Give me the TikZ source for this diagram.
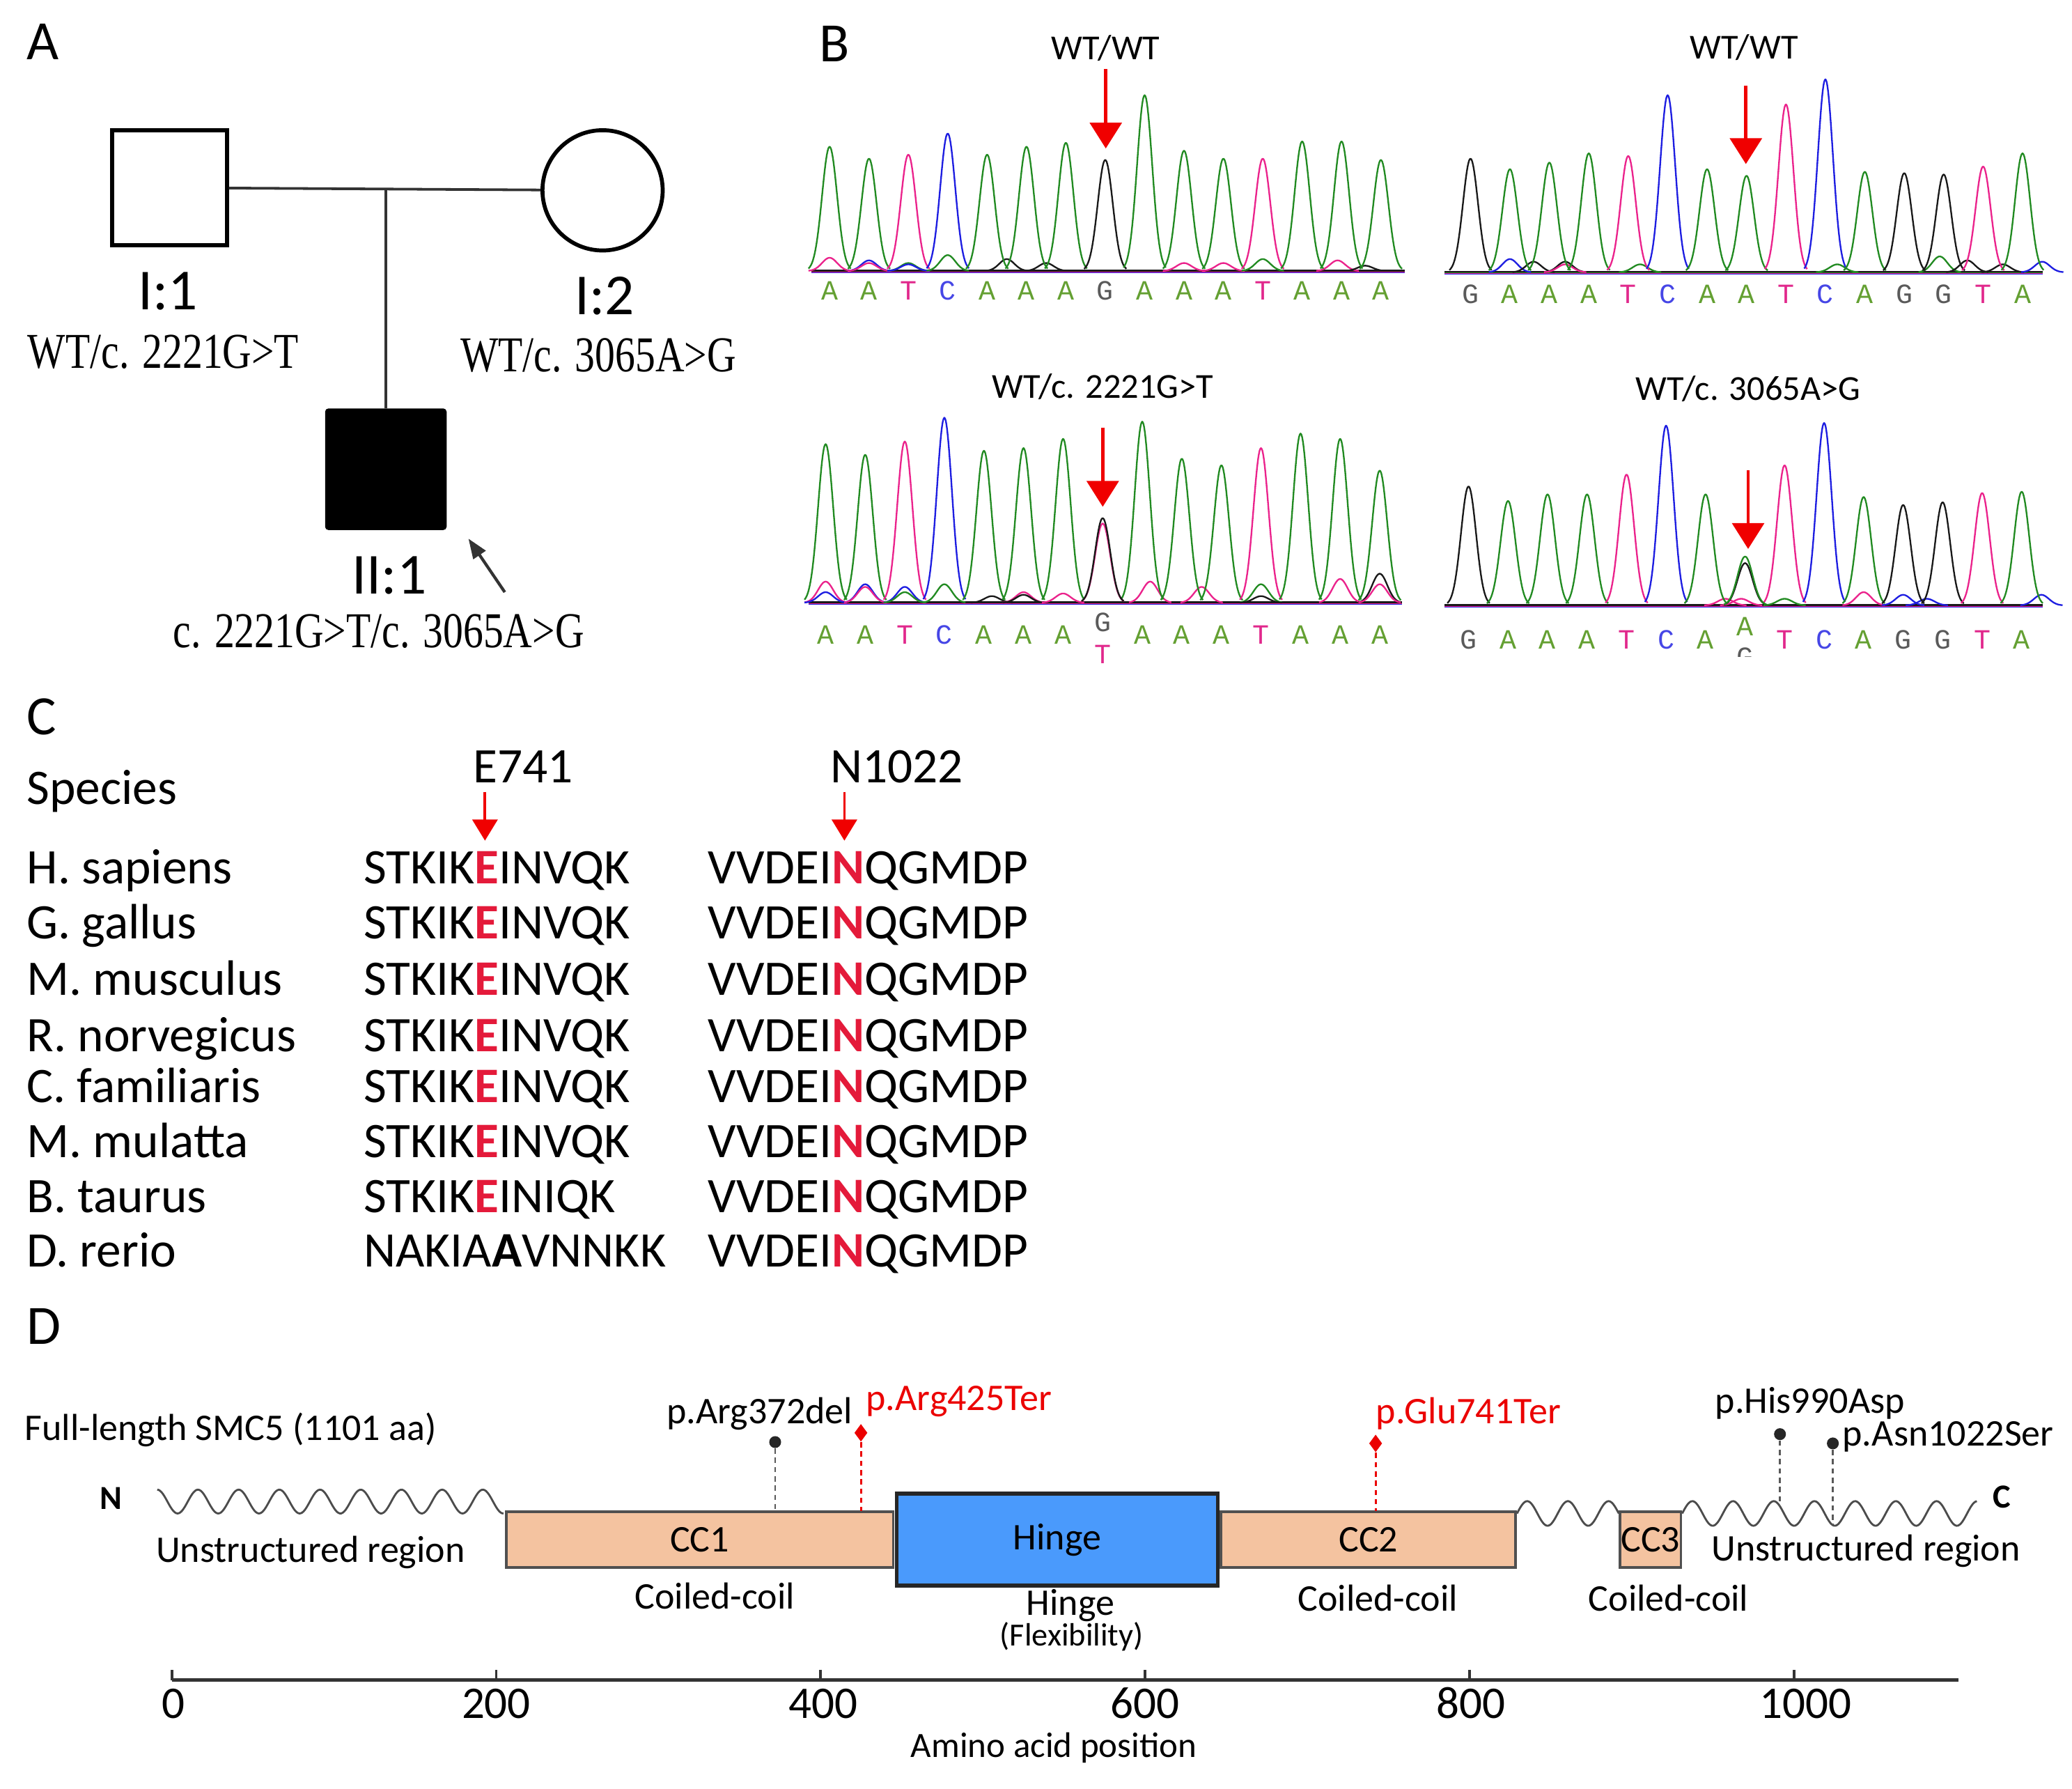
\documentclass[tikz,border=0pt]{standalone}
\usepackage{fontspec}
\setmainfont{Carlito}
\newfontfamily\genofont[FakeStretch=0.8]{Liberation Serif}
\newfontfamily\basefont{Liberation Mono}
\usepackage{tikz}
\usetikzlibrary{arrows.meta,shapes,positioning}

\definecolor{ccfill}{RGB}{244,195,160}
\definecolor{hingefill}{RGB}{74,154,252}
\definecolor{boxline}{RGB}{80,80,80}
\definecolor{markred}{RGB}{235,0,0}
\definecolor{arrowred}{RGB}{240,0,0}
\definecolor{seqred}{RGB}{228,26,58}
\definecolor{pedgray}{RGB}{51,51,51}
\definecolor{trA}{RGB}{34,139,34}
\definecolor{trC}{RGB}{30,30,225}
\definecolor{trG}{RGB}{25,25,25}
\definecolor{trT}{RGB}{235,35,140}
\definecolor{bA}{RGB}{100,160,50}
\definecolor{bC}{RGB}{70,70,230}
\definecolor{bG}{RGB}{90,90,90}
\definecolor{bT}{RGB}{225,40,140}

\tikzstyle{panel} = [font=\fontsize{23.9}{28}\selectfont, inner sep=0, anchor=base west]
\tikzstyle{pedid} = [font=\fontsize{25}{30}\selectfont, inner sep=0, anchor=base]
\tikzstyle{geno} = [font=\genofont\fontsize{21.6}{26}\selectfont, inner sep=0, anchor=base]
\tikzstyle{male} = [rectangle, draw=black, line width=0.06cm, fill=white,
    minimum size=1.74cm]
\tikzstyle{female} = [circle, draw=black, line width=0.06cm, fill=white,
    minimum size=1.82cm]
\tikzstyle{affected} = [rectangle, fill=black, rounded corners=0.05cm,
    minimum size=1.84cm]
\tikzstyle{pedline} = [draw=pedgray, line width=0.04cm]
\tikzstyle{probandarrow} = [draw=pedgray, line width=0.045cm,
    -{Triangle[length=0.3cm,width=0.22cm]}]
\tikzstyle{title} = [font=\fontsize{15.1}{18}\selectfont, inner sep=0, anchor=base]
\tikzstyle{trace} = [line width=0.7pt, line join=round]
\tikzstyle{nt} = [font=\basefont\fontsize{12}{14}\selectfont, inner sep=0, anchor=base]
\tikzstyle{redarrow} = [draw=arrowred, line width=0.05cm,
    -{Triangle[length=0.39cm,width=0.48cm]}]
\tikzstyle{seq} = [font=\fontsize{21.4}{26}\selectfont, inner sep=0, anchor=base west]
\tikzstyle{smallarrow} = [draw=arrowred, line width=0.04cm,
    -{Triangle[length=0.32cm,width=0.38cm]}]
\tikzstyle{dlabel} = [font=\fontsize{16.2}{19}\selectfont, inner sep=0, anchor=base]
\tikzstyle{flexlabel} = [font=\fontsize{13.9}{16}\selectfont, inner sep=0, anchor=base]
\tikzstyle{termlabel} = [font=\bfseries\fontsize{14.5}{17}\selectfont, inner sep=0, anchor=base]
\tikzstyle{numlabel} = [font=\fontsize{19.5}{23}\selectfont, inner sep=0, anchor=base]
\tikzstyle{ccbox} = [rectangle, draw=boxline, line width=0.04cm, fill=ccfill,
    inner sep=0, minimum height=0.848cm, font=\fontsize{16.2}{19}\selectfont]
\tikzstyle{hingebox} = [rectangle, draw=black!85, line width=0.06cm, fill=hingefill,
    inner sep=0, minimum width=4.86cm, minimum height=1.39cm,
    font=\fontsize{16.2}{19}\selectfont]
\tikzstyle{wave} = [draw=black!70, line width=0.03cm]
\tikzstyle{graydash} = [draw=black!65, line width=0.03cm, dash pattern=on 0.08cm off 0.06cm]
\tikzstyle{reddash} = [draw=markred, line width=0.03cm, dash pattern=on 0.08cm off 0.06cm]
\tikzstyle{blackdot} = [circle, fill=black!85, minimum size=0.18cm, inner sep=0]
\tikzstyle{reddiamond} = [diamond, fill=markred, minimum width=0.2cm,
    minimum height=0.27cm, inner sep=0]
\tikzstyle{axisline} = [draw=black!80, line width=0.06cm]
\tikzstyle{tickmark} = [draw=black!80, line width=0.04cm]

% one gaussian peak: x, baseline, height, colour
\newcommand{\peak}[4]{%
  \pgfmathsetmacro\pka{#1-16}\pgfmathsetmacro\pkb{#1+16}%
  \draw[trace,#4] plot[domain=\pka:\pkb,samples=33,smooth]
    (\x,{#2-#3*exp(-((\x-#1)^2)/65)});}
\newcommand{\hl}[1]{\textbf{\color{seqred}#1}}

\begin{document}
\begin{tikzpicture}[x=0.02cm, y=-0.02cm]
    \fill[white] (0,0) rectangle (1568,1353);
    \useasboundingbox (0,0) rectangle (1568,1353);
    % Panel letters
    \node[panel] (labA) at (20.2,45.3) {A};
    \node[panel] (labB) at (619.7,46.4) {B};
    \node[panel] (labC) at (20,555.6) {C};
    \node[panel] (labD) at (20,1017) {D};

    % A: pedigree
    \node[male] (father) at (128.2,142) {};
    \node[female] (mother) at (456,144) {};
    \node[affected] (proband) at (292,355) {};
    \coordinate (union) at (292,143.1);
    \draw[pedline] (father) -- (mother);
    \draw[pedline] (union) -- (proband);
    \node[pedid] (id11) at (127,234.5) {I:1};
    \node[pedid] (id12) at (457.4,237.7) {I:2};
    \node[pedid] (id21) at (294.6,449.5) {II:1};
    \node[geno] (g11) at (123.6,278.8) {WT/c. 2221G>T};
    \node[geno] (g12) at (452.7,281.4) {WT/c. 3065A>G};
    \node[geno] (g21) at (286.6,490) {c. 2221G>T/c. 3065A>G};
    \coordinate (ptail) at (382,448);
    \coordinate (ptip) at (354.5,407.5);
    \draw[probandarrow] (ptail) -- (ptip);

    % B: chromatograms
    \node[title] (tTL) at (836.8,45) {WT/WT};
    \node[title] (tTR) at (1319.7,44.4) {WT/WT};
    \node[title] (tBL) at (834.5,301) {WT/c. 2221G>T};
    \node[title] (tBR) at (1322.8,302.8) {WT/c. 3065A>G};
    % top left
    \foreach \col/\dy in {trC/1,trT/0.5,trA/0,trG/-0.3}
        \draw[trace,\col] (614,{205+\dy}) -- (1063,{205+\dy});
    \foreach \p/\hh/\col in {0/10/trT,1/8/trC,1/6/trT,2/6/trA,2/5/trC,3/12/trA,
        4.5/9/trG,5.5/6/trG,9/6/trT,10/6/trT,11/9/trA,12.9/8/trT,13.6/4/trG}
        {\pgfmathsetmacro\px{627.8+29.8*\p}\peak{\px}{205}{\hh}{\col}}
    \foreach \hh/\col [count=\n from 0] in {94/trA,85/trA,88/trT,104/trC,88/trA,
        94/trA,97/trA,84/trG,133/trA,91/trA,85/trA,85/trT,98/trA,98/trA,84/trA}
        {\pgfmathsetmacro\px{627.8+29.8*\n}\peak{\px}{205}{\hh}{\col}}
    \foreach \nuc [count=\n from 0] in {A,A,T,C,A,A,A,G,A,A,A,T,A,A,A}
        \node[nt,text=b\nuc] (tl\n) at ({627.8+29.8*\n},227) {\nuc};
    % top right
    \foreach \col/\dy in {trC/1,trT/0.5,trA/0,trG/-0.3}
        \draw[trace,\col] (1093,{206+\dy}) -- (1546,{206+\dy});
    \foreach \p/\hh/\col in {1/10/trC,1.6/8/trG,2.4/8/trG,2.4/6/trT,4.3/6/trA,
        9.3/6/trA,11.9/12/trA,12.6/9/trG,13.5/6/trG,14.5/8/trC}
        {\pgfmathsetmacro\px{1112.8+29.84*\p}\peak{\px}{206}{\hh}{\col}}
    \foreach \hh/\col [count=\n from 0] in {86/trG,78/trA,83/trA,90/trA,88/trT,
        134/trC,78/trA,73/trA,127/trT,146/trC,76/trA,75/trG,74/trG,80/trT,90/trA}
        {\pgfmathsetmacro\px{1112.8+29.84*\n}\peak{\px}{206}{\hh}{\col}}
    \foreach \nuc [count=\n from 0] in {G,A,A,A,T,C,A,A,T,C,A,G,G,T,A}
        \node[nt,text=b\nuc] (tr\n) at ({1112.8+29.84*\n},229.5) {\nuc};
    % bottom left
    \foreach \col/\dy in {trC/1,trT/0.5,trA/0,trG/-0.3}
        \draw[trace,\col] (612,{456+\dy}) -- (1061,{456+\dy});
    \foreach \p/\hh/\col in {0/16/trT,0/8/trC,1/14/trC,1/12/trT,2/12/trC,2/8/trA,
        3/14/trA,4.2/5/trG,5/8/trT,5/6/trG,6/7/trT,8.2/16/trT,9.5/12/trT,
        11/14/trA,11/5/trG,13/18/trT,14/22/trG,14/14/trT}
        {\pgfmathsetmacro\px{624.8+29.95*\p}\peak{\px}{456}{\hh}{\col}}
    \foreach \hh/\col [count=\n from 0] in {120/trA,112/trA,122/trT,140/trC,115/trA,
        117/trA,124/trA,60/trT,137/trA,109/trA,104/trA,117/trT,128/trA,124/trA,100/trA}
        {\pgfmathsetmacro\px{624.8+29.95*\n}\peak{\px}{456}{\hh}{\col}}
    \peak{834.45}{456}{64}{trG}
    \foreach \nuc/\yy [count=\n from 0] in {A/487,A/487,T/487,C/487,A/487,A/487,
        A/487,G/478,A/487,A/487,A/487,T/487,A/487,A/487,A/487}
        \node[nt,text=b\nuc] (bl\n) at ({624.8+29.95*\n},\yy) {\nuc};
    \node[nt,text=bT] (blT) at (834.45,502) {T};
    % bottom right
    \foreach \col/\dy in {trC/1,trT/0.5,trA/0,trG/-0.3}
        \draw[trace,\col] (1093,{458+\dy}) -- (1546,{458+\dy});
    \foreach \p/\hh/\col in {6.5/5/trT,6.9/5/trT,8/5/trA,10/10/trT,11/8/trC,
        11.6/5/trC,14.5/8/trC}
        {\pgfmathsetmacro\px{1111.3+29.9*\p}\peak{\px}{458}{\hh}{\col}}
    \foreach \hh/\col [count=\n from 0] in {90/trG,79/trA,84/trA,84/trA,99/trT,
        136/trC,84/trA,32/trG,106/trT,138/trC,82/trA,76/trG,78/trG,85/trT,86/trA}
        {\pgfmathsetmacro\px{1111.3+29.9*\n}\peak{\px}{458}{\hh}{\col}}
    \peak{1320.6}{458}{37}{trA}
    \foreach \nuc/\yy [count=\n from 0] in {G/491,A/491,A/491,A/491,T/491,C/491,
        A/491,A/481,T/491,C/491,A/491,G/491,G/491,T/491,A/491}
        \node[nt,text=b\nuc] (br\n) at ({1111.3+29.9*\n},\yy) {\nuc};
    \begin{scope}
        \clip (1300,470) rectangle (1340,497);
        \node[nt,text=bG] (brG) at (1320.6,504) {G};
    \end{scope}
    % red arrows
    \coordinate (aTL1) at (836.8,52.4);  \coordinate (aTL2) at (836.8,112.3);
    \coordinate (aTR1) at (1321.2,65);   \coordinate (aTR2) at (1321.2,124.1);
    \coordinate (aBL1) at (834.5,323.4); \coordinate (aBL2) at (834.5,383.4);
    \coordinate (aBR1) at (1322.9,355.5);\coordinate (aBR2) at (1322.9,415.3);
    \draw[redarrow] (aTL1) -- (aTL2);
    \draw[redarrow] (aTR1) -- (aTR2);
    \draw[redarrow] (aBL1) -- (aBL2);
    \draw[redarrow] (aBR1) -- (aBR2);

    % C: alignment
    \node[seq] (species) at (20,608.5) {Species};
    \node[seq, anchor=base] (e741) at (396,592) {E741};
    \node[seq, anchor=base] (n1022) at (678.5,592) {N1022};
    \coordinate (e741a) at (367,599);  \coordinate (e741b) at (367,636);
    \coordinate (n1022a) at (639,599); \coordinate (n1022b) at (639,636);
    \draw[smallarrow] (e741a) -- (e741b);
    \draw[smallarrow] (n1022a) -- (n1022b);
    \foreach \spname/\yy/\seqa/\seqb [count=\n] in {
        H. sapiens/668.5/STKIK\hl{E}INVQK/VVDEI\hl{N}QGMDP,
        G. gallus/710/STKIK\hl{E}INVQK/VVDEI\hl{N}QGMDP,
        M. musculus/752.8/STKIK\hl{E}INVQK/VVDEI\hl{N}QGMDP,
        R. norvegicus/795.7/STKIK\hl{E}INVQK/VVDEI\hl{N}QGMDP,
        C. familiaris/834.3/STKIK\hl{E}INVQK/VVDEI\hl{N}QGMDP,
        M. mulatta/875.7/STKIK\hl{E}INVQK/VVDEI\hl{N}QGMDP,
        B. taurus/917.1/STKIK\hl{E}INIQK/VVDEI\hl{N}QGMDP,
        D. rerio/958.6/NAKIA\textbf{A}VNNKK/VVDEI\hl{N}QGMDP}
    {
        \node[seq] (sp\n) at (20,\yy) {\spname};
        \node[seq] (sa\n) at (275,\yy) {\seqa};
        \node[seq] (sb\n) at (535.5,\yy) {\seqb};
    }

    % D: domain map
    \node[dlabel, anchor=base west] (full) at (18.5,1089.6) {Full-length SMC5 (1101 aa)};
    \node[termlabel] (nterm) at (84,1142) {N};
    \node[termlabel] (cterm) at (1515,1140.6) {C};
    \draw[wave] plot[domain=119:381, samples=240] (\x,{1136-9*cos(((\x-119)/30.8)*360)});
    \draw[wave] plot[domain=1148:1225, samples=80] (\x,{1145-9.3*sin(((\x-1148)/30.8)*360)});
    \draw[wave] plot[domain=1273:1496, samples=220] (\x,{1145-9.3*sin(((\x-1273)/30.8)*360)});
    \node[ccbox, minimum width=5.86cm] (cc1) at (529.5,1164.8) {CC1};
    \node[ccbox, minimum width=4.46cm] (cc2) at (1035.5,1164.8) {CC2};
    \node[ccbox, minimum width=0.92cm] (cc3) at (1249,1164.8) {CC3};
    \node[hingebox] (hinge) at (800,1164.85) {Hinge};
    \node[dlabel] (unsL) at (235,1182) {Unstructured region};
    \node[dlabel] (unsR) at (1412,1181) {Unstructured region};
    \node[dlabel] (cc1lab) at (541,1217) {Coiled-coil};
    \node[dlabel] (cc2lab) at (1042.7,1219) {Coiled-coil};
    \node[dlabel] (cc3lab) at (1262.6,1219) {Coiled-coil};
    \node[dlabel] (hingelab) at (810,1222) {Hinge};
    \node[flexlabel] (flexlab) at (811,1245) {(Flexibility)};
    % variants
    \node[blackdot] (m372) at (586.6,1091) {};
    \node[reddiamond] (m425) at (651.5,1084) {};
    \node[reddiamond] (m741) at (1041,1092) {};
    \node[blackdot] (m990) at (1347,1085) {};
    \node[blackdot] (m1022) at (1387,1092) {};
    \coordinate (s372) at (586.6,1143);
    \coordinate (s425) at (651.5,1143);
    \coordinate (s741) at (1041,1143);
    \coordinate (s990) at (1347,1139.6);
    \coordinate (s1022) at (1387,1153.9);
    \draw[graydash] (m372) -- (s372);
    \draw[reddash] (m425) -- (s425);
    \draw[reddash] (m741) -- (s741);
    \draw[graydash] (m990) -- (s990);
    \draw[graydash] (m1022) -- (s1022);
    \node[dlabel, anchor=base east] (l372) at (645.5,1077) {p.Arg372del};
    \node[dlabel, anchor=base west, text=markred] (l425) at (655,1067) {p.Arg425Ter};
    \node[dlabel, anchor=base west, text=markred] (l741) at (1041,1077) {p.Glu741Ter};
    \node[dlabel, anchor=base west] (l990) at (1297.7,1069) {p.His990Asp};
    \node[dlabel, anchor=base west] (l1022) at (1394,1094) {p.Asn1022Ser};
    % axis
    \coordinate (ax0) at (130,1271);
    \coordinate (ax1) at (1482,1271);
    \draw[axisline] (ax0) -- (ax1);
    \foreach \k/\lab/\dx in {0/0/1,1/200/0,2/400/2,3/600/0,4/800/1,5/1000/9}
    {
        \draw[tickmark] ({130+245.5*\k},1271) -- ({130+245.5*\k},1263.5);
        \node[numlabel] (t\lab) at ({130+245.5*\k+\dx},1300) {\lab};
    }
    \node[dlabel, font=\fontsize{15.3}{18}\selectfont] (aapos) at (797.6,1329.7)
        {Amino acid position};
\end{tikzpicture}
\end{document}
